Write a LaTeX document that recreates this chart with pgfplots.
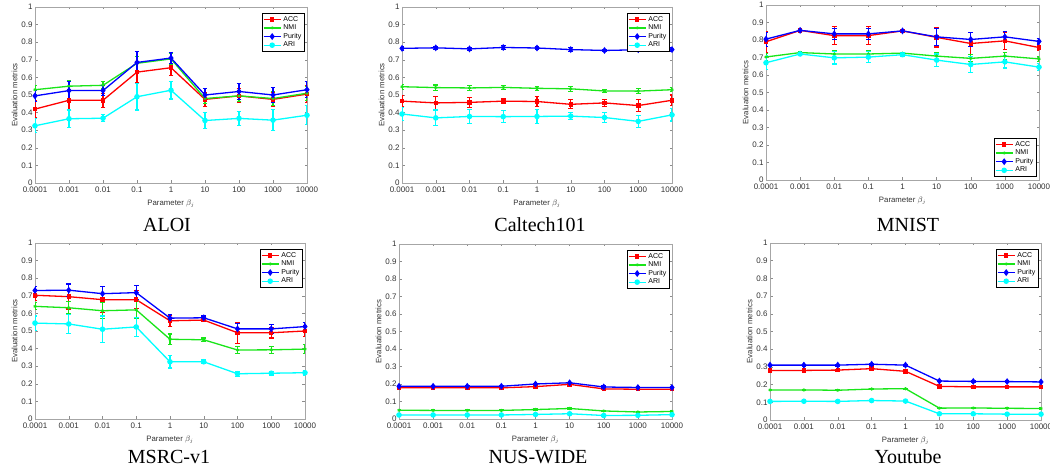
\documentclass[border=0pt]{standalone}
\usepackage{fontspec}
\setmainfont{Liberation Serif}
\newfontfamily\axfont{Liberation Sans}
\usepackage{pgfplots}
\usepackage{pgfplotstable}
\pgfplotsset{compat=1.18}

\definecolor{mred}{rgb}{1,0,0}
\definecolor{mgreen}{rgb}{0.1,0.9,0.1}
\definecolor{mblue}{rgb}{0,0,1}
\definecolor{mcyan}{rgb}{0,1,1}

% x: 0..8 stands for 0.0001 ... 10000
\pgfplotstableread{
x acc accE nmi nmiE pur purE ari ariE
0 0.420 0.050 0.530 0.025 0.495 0.030 0.325 0.040
1 0.470 0.060 0.550 0.030 0.525 0.050 0.365 0.050
2 0.470 0.040 0.555 0.020 0.525 0.030 0.368 0.020
3 0.630 0.060 0.680 0.040 0.685 0.060 0.490 0.075
4 0.655 0.045 0.705 0.030 0.710 0.030 0.527 0.050
5 0.475 0.040 0.480 0.030 0.500 0.035 0.355 0.045
6 0.495 0.040 0.495 0.030 0.520 0.045 0.367 0.040
7 0.475 0.040 0.480 0.040 0.500 0.045 0.357 0.060
8 0.505 0.050 0.510 0.040 0.530 0.045 0.385 0.055
}\aloi

\pgfplotstableread{
x acc accE nmi nmiE pur purE ari ariE
0 0.465 0.030 0.547 0.015 0.765 0.010 0.392 0.035
1 0.455 0.035 0.542 0.015 0.768 0.010 0.370 0.045
2 0.458 0.030 0.540 0.015 0.762 0.010 0.378 0.040
3 0.465 0.015 0.543 0.010 0.770 0.010 0.377 0.035
4 0.463 0.030 0.538 0.010 0.767 0.008 0.378 0.040
5 0.447 0.025 0.535 0.015 0.758 0.010 0.380 0.020
6 0.455 0.020 0.523 0.010 0.753 0.008 0.372 0.030
7 0.440 0.035 0.522 0.015 0.757 0.010 0.350 0.035
8 0.470 0.030 0.530 0.012 0.758 0.010 0.387 0.035
}\caltech

\pgfplotstableread{
x acc accE nmi nmiE pur purE ari ariE
0 0.790 0.060 0.703 0.020 0.805 0.040 0.670 0.040
1 0.855 0.008 0.728 0.005 0.855 0.005 0.720 0.010
2 0.825 0.050 0.720 0.020 0.835 0.030 0.698 0.035
3 0.825 0.050 0.720 0.020 0.835 0.030 0.702 0.030
4 0.852 0.008 0.725 0.005 0.852 0.005 0.716 0.010
5 0.815 0.055 0.708 0.020 0.818 0.050 0.685 0.035
6 0.780 0.065 0.695 0.020 0.803 0.040 0.660 0.045
7 0.795 0.050 0.708 0.020 0.818 0.030 0.675 0.035
8 0.757 0.015 0.692 0.015 0.792 0.015 0.645 0.020
}\mnist

\pgfplotstableread{
x acc accE nmi nmiE pur purE ari ariE
0 0.703 0.030 0.640 0.020 0.730 0.025 0.545 0.040
1 0.695 0.070 0.632 0.035 0.732 0.035 0.540 0.055
2 0.678 0.075 0.615 0.045 0.712 0.040 0.510 0.075
3 0.678 0.050 0.620 0.050 0.718 0.040 0.523 0.055
4 0.558 0.030 0.453 0.030 0.573 0.020 0.325 0.035
5 0.562 0.010 0.450 0.010 0.575 0.010 0.325 0.010
6 0.490 0.060 0.392 0.020 0.512 0.030 0.257 0.015
7 0.490 0.030 0.393 0.020 0.512 0.025 0.260 0.010
8 0.500 0.030 0.397 0.025 0.525 0.025 0.263 0.015
}\msrc

\pgfplotstableread{
x acc accE nmi nmiE pur purE ari ariE
0 0.178 0.004 0.050 0.003 0.187 0.004 0.023 0.003
1 0.178 0.004 0.049 0.003 0.187 0.004 0.023 0.003
2 0.178 0.004 0.049 0.003 0.187 0.004 0.023 0.003
3 0.178 0.004 0.049 0.003 0.187 0.004 0.023 0.003
4 0.185 0.004 0.054 0.003 0.200 0.004 0.026 0.003
5 0.198 0.004 0.060 0.003 0.207 0.004 0.030 0.003
6 0.172 0.004 0.046 0.003 0.183 0.006 0.020 0.003
7 0.170 0.004 0.040 0.003 0.180 0.004 0.021 0.003
8 0.170 0.004 0.043 0.003 0.180 0.004 0.025 0.003
}\nus

\pgfplotstableread{
x acc accE nmi nmiE pur purE ari ariE
0 0.280 0.005 0.170 0.003 0.310 0.005 0.105 0.004
1 0.280 0.005 0.170 0.003 0.310 0.005 0.106 0.004
2 0.282 0.005 0.168 0.003 0.310 0.005 0.105 0.004
3 0.290 0.005 0.175 0.003 0.315 0.005 0.110 0.004
4 0.275 0.005 0.177 0.003 0.310 0.005 0.107 0.004
5 0.190 0.005 0.067 0.003 0.220 0.005 0.035 0.004
6 0.187 0.005 0.068 0.003 0.218 0.005 0.035 0.004
7 0.187 0.005 0.066 0.003 0.217 0.005 0.033 0.004
8 0.187 0.005 0.065 0.003 0.215 0.005 0.033 0.004
}\youtube

\pgfplotsset{
  panel/.style={
    scale only axis, anchor=south west,
    xmin=0, xmax=8, ymin=0, ymax=1,
    xtick={0,1,2,3,4,5,6,7,8},
    xticklabels={0.0001,0.001,0.01,0.1,1,10,100,1000,10000},
    ytick={0,0.1,0.2,0.3,0.4,0.5,0.6,0.7,0.8,0.9,1},
    yticklabels={0,0.1,0.2,0.3,0.4,0.5,0.6,0.7,0.8,0.9,1},
    tick align=inside, major tick length=2.5pt,
    every tick/.style={black!45, line width=0.4pt},
    axis line style={black!35, line width=0.5pt},
    ticklabel style={font=\axfont\fontsize{8}{9}\selectfont, text=black!80},
    yticklabel style={xshift=1pt},
    xlabel={Parameter $\beta_j$}, ylabel={Evaluation metrics},
    label style={font=\axfont\fontsize{7.8}{9}\selectfont, text=black!80},
    xlabel style={yshift=-1pt},
    ylabel style={yshift=-3pt},
    legend style={font=\axfont\fontsize{7}{7.5}\selectfont, draw=black, line width=0.4pt,
      inner sep=0.8pt, row sep=-1.8pt, at={(0.99,0.965)}, anchor=north east,
      cells={anchor=west}},
    every axis plot/.append style={line width=1.3pt},
  },
  eb/.style={error bars/.cd, y dir=both, y explicit,
    error bar style={line width=1.1pt, solid},
    error mark=-,
    error mark options={rotate=90, line width=1.1pt, mark size=2.3pt}},
}

\newcommand\fourseries[1]{%
  \addplot[mred, mark=square*, mark size=1.6pt, eb]
    table[x=x, y=acc, y error=accE]{#1};
  \addlegendentry{ACC}
  \addplot[mgreen, mark=asterisk, mark size=1.6pt, mark options={line width=0.8pt}, eb]
    table[x=x, y=nmi, y error=nmiE]{#1};
  \addlegendentry{NMI}
  \addplot[mblue, mark=diamond*, mark size=2.4pt, eb]
    table[x=x, y=pur, y error=purE]{#1};
  \addlegendentry{Purity}
  \addplot[mcyan, mark=*, mark size=2.1pt, eb]
    table[x=x, y=ari, y error=ariE]{#1};
  \addlegendentry{ARI}
}

\begin{document}
\begin{tikzpicture}[x=1pt, y=1pt]
\useasboundingbox (0,0) rectangle (1050,473);

\begin{axis}[panel, at={(35pt,290pt)}, width=272pt, height=176pt]
\fourseries{\aloi}
\end{axis}

\begin{axis}[panel, at={(402pt,290pt)}, width=270pt, height=176pt]
\fourseries{\caltech}
\end{axis}

\begin{axis}[panel, at={(766pt,293pt)}, width=273pt, height=175pt,
  legend style={at={(0.99,0.02)}, anchor=south east}]
\fourseries{\mnist}
\end{axis}

\begin{axis}[panel, at={(35pt,54pt)}, width=270pt, height=176pt]
\fourseries{\msrc}
\end{axis}

\begin{axis}[panel, at={(399pt,54pt)}, width=273pt, height=175pt]
\fourseries{\nus}
\end{axis}

\begin{axis}[panel, at={(770pt,53pt)}, width=271pt, height=177pt]
\fourseries{\youtube}
\end{axis}

\begin{scope}[font=\fontsize{20}{22}\selectfont]
\node[anchor=base] at (167,241) {ALOI};
\node[anchor=base] at (540,241) {Caltech101};
\node[anchor=base] at (908,241) {MNIST};
\node[anchor=base] at (169,9) {MSRC-v1};
\node[anchor=base] at (538,9) {NUS-WIDE};
\node[anchor=base] at (908,9) {Youtube};
\end{scope}
\end{tikzpicture}
\end{document}
